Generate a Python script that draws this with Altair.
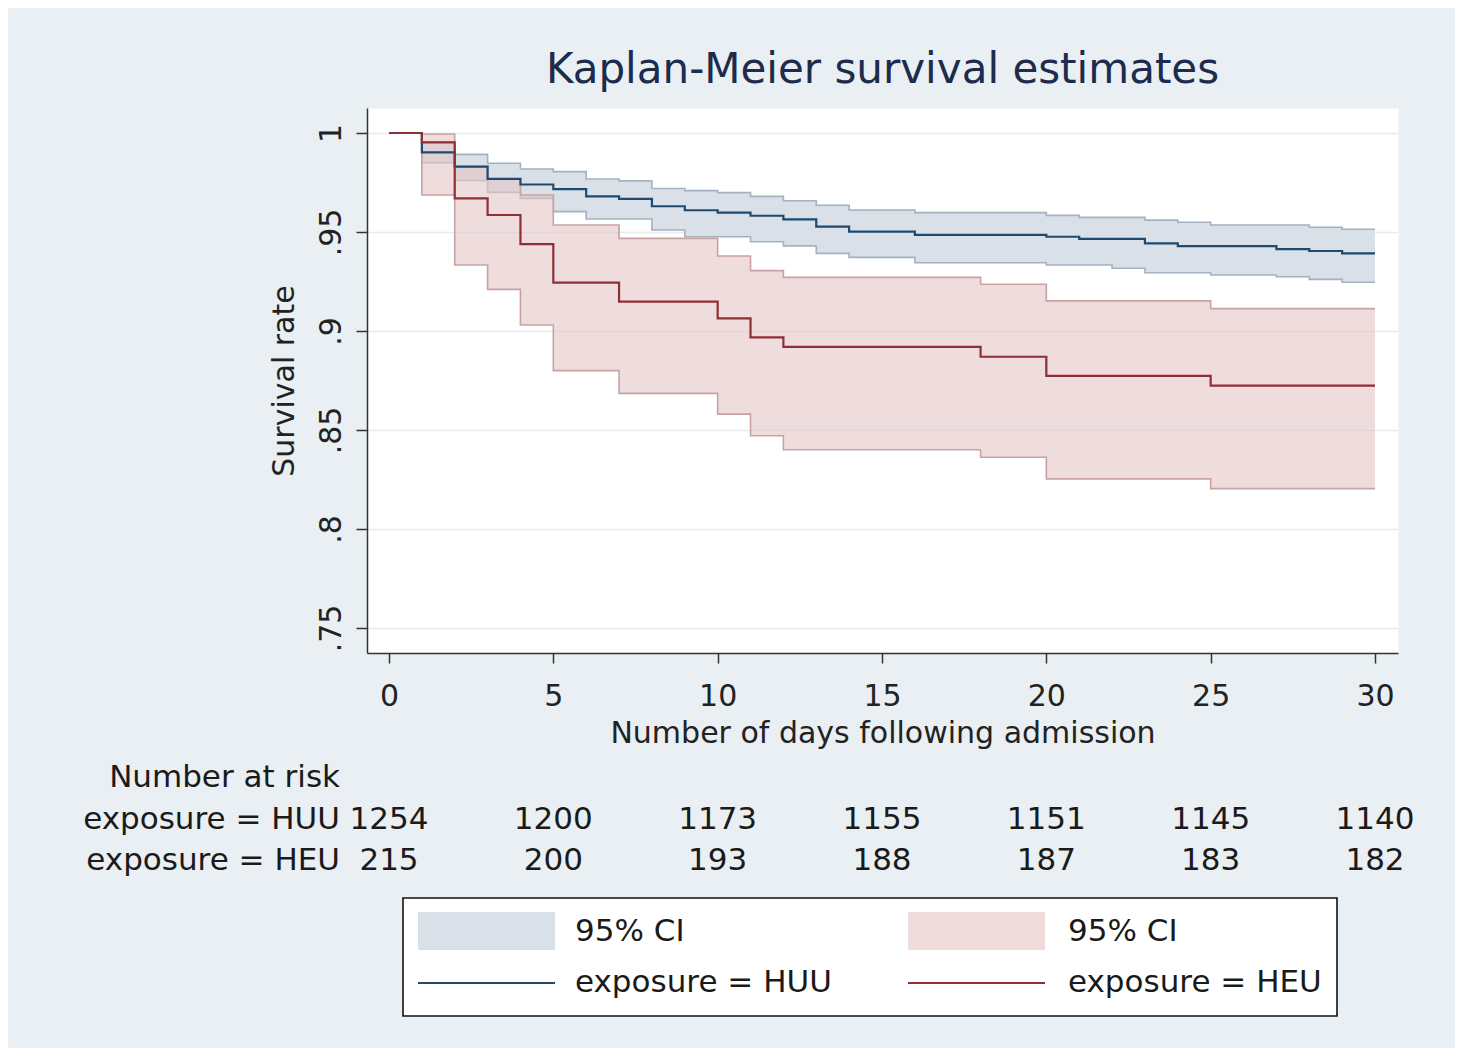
import altair as alt
import pandas as pd

# ---------------- data ----------------
huu_t = [0, 1, 2, 3, 4, 5, 6, 7, 8, 9, 10, 11, 12, 13, 14, 16, 20, 21, 22, 23, 24, 25, 27, 28, 29, 30]
huu_s = [1.0, .9902, .9830, .9768, .9740, .9717, .9680, .9667, .9630, .9610, .9598, .9582, .9564,
         .9527, .9502, .9485, .9476, .9465, .9465, .9443, .9429, .9429, .9414, .9404, .9392, .9392]
huu_hi = [1.0, .9955, .9892, .9847, .9818, .9805, .9768, .9758, .9720, .9709, .9699, .9680, .9658,
          .9635, .9611, .9598, .9584, .9574, .9574, .9560, .9549, .9535, .9535, .9524, .9514, .9514]
huu_lo = [1.0, .9850, .9760, .9700, .9670, .9603, .9566, .9566, .9510, .9476, .9476, .9451, .9430,
          .9392, .9372, .9345, .9333, .9333, .9317, .9294, .9294, .9283, .9274, .9261, .9246, .9246]

heu_t = [0, 1, 2, 3, 4, 5, 7, 10, 11, 12, 18, 20, 25, 30]
heu_s = [1.0, .9953, .9670, .9586, .9439, .9244, .9148, .9064, .8968, .8920, .8870, .8773, .8724, .8724]
heu_hi = [1.0, .9995, .9830, .9768, .9687, .9535, .9468, .9379, .9305, .9271, .9236, .9152, .9113, .9113]
heu_lo = [1.0, .9687, .9333, .9210, .9030, .8800, .8685, .8580, .8471, .8400, .8362, .8253, .8204, .8204]

risk_days = [0, 5, 10, 15, 20, 25, 30]
risk_huu = [1254, 1200, 1173, 1155, 1151, 1145, 1140]
risk_heu = [215, 200, 193, 188, 187, 183, 182]

x_ticks = [0, 5, 10, 15, 20, 25, 30]
y_ticks = [0.75, 0.8, 0.85, 0.9, 0.95, 1.0]

title_text = "Kaplan-Meier survival estimates"
x_title = "Number of days following admission"
y_title = "Survival rate"
row_labels = ["exposure = HUU", "exposure = HEU"]

# ---------------- styling ----------------
FONT = "DejaVu Sans"
BG = "#e9eff2"
BLUE_LINE = "#1f4a70"
RED_LINE = "#8e2f36"
BLUE_FILL = "#d9e0e8"
BLUE_EDGE = "#a3b1c0"
RED_FILL = "#e4c5c5"
RED_EDGE = "#c9a2a4"

W, H = 1031, 545
xs = alt.Scale(domain=[-0.669, 30.70], nice=False, zero=False)
ys = alt.Scale(domain=[0.73737, 1.01263], nice=False, zero=False)

X_AXIS = alt.Axis(values=x_ticks, title=x_title, grid=False, tickSize=10, tickWidth=1.5,
                  tickColor="#333", domainColor="#333", domainWidth=1.5,
                  labelFont=FONT, labelFontSize=30, labelColor="#222", labelPadding=18,
                  labelFlush=False, labelOverlap=False,
                  titleFont=FONT, titleFontSize=30, titleFontWeight="normal", titleColor="#222",
                  titleY=89, titleBaseline="alphabetic")
Y_AXIS = alt.Axis(values=y_ticks, title=y_title, grid=True, gridColor="#e6ebee", gridWidth=1.5,
                  tickSize=11, tickWidth=1.5, tickColor="#333", domainColor="#333", domainWidth=1.5,
                  labelExpr="datum.value >= 1 ? '1' : replace(format(datum.value, '.2~f'), '0.', '.')",
                  labelFont=FONT, labelFontSize=30, labelColor="#222", labelAngle=270,
                  labelAlign="center", labelBaseline="alphabetic", labelPadding=16,
                  labelFlush=False, labelOverlap=False,
                  titleFont=FONT, titleFontSize=30, titleFontWeight="normal", titleColor="#222",
                  titleAngle=270, titleX=-74, titleY=272.5, titleAlign="center",
                  titleBaseline="alphabetic")


def xenc(field="t"):
    return alt.X(f"{field}:Q", scale=xs, axis=X_AXIS)


def yenc(field):
    return alt.Y(f"{field}:Q", scale=ys, axis=Y_AXIS)


huu = pd.DataFrame({"t": huu_t, "s": huu_s, "lo": huu_lo, "hi": huu_hi})
heu = pd.DataFrame({"t": heu_t, "s": heu_s, "lo": heu_lo, "hi": heu_hi})

blue_band = alt.Chart(huu).mark_area(interpolate="step-after", color=BLUE_FILL, opacity=1).encode(
    x=xenc(), y=yenc("lo"), y2="hi:Q")
blue_lo = alt.Chart(huu).mark_line(interpolate="step-after", color=BLUE_EDGE, strokeWidth=1.6).encode(
    x=xenc(), y=yenc("lo"))
blue_hi = alt.Chart(huu).mark_line(interpolate="step-after", color=BLUE_EDGE, strokeWidth=1.6).encode(
    x=xenc(), y=yenc("hi"))

red_band = alt.Chart(heu).mark_area(interpolate="step-after", color=RED_FILL, opacity=0.6).encode(
    x=xenc(), y=yenc("lo"), y2="hi:Q")
red_lo = alt.Chart(heu).mark_line(interpolate="step-after", color=RED_EDGE, strokeWidth=1.6).encode(
    x=xenc(), y=yenc("lo"))
red_hi = alt.Chart(heu).mark_line(interpolate="step-after", color=RED_EDGE, strokeWidth=1.6).encode(
    x=xenc(), y=yenc("hi"))

blue_line = alt.Chart(huu).mark_line(interpolate="step-after", color=BLUE_LINE, strokeWidth=2.2).encode(
    x=xenc(), y=yenc("s"))
red_line = alt.Chart(heu).mark_line(interpolate="step-after", color=RED_LINE, strokeWidth=2.2).encode(
    x=xenc(), y=yenc("s"))

# ---------------- number at risk table ----------------
risk = pd.DataFrame({"day": risk_days, "huu": risk_huu, "heu": risk_heu})
txt = dict(font=FONT, fontSize=31, color="#1a1a1a", baseline="middle")
risk_huu_txt = alt.Chart(risk).mark_text(align="center", **txt).encode(
    x=xenc("day"), y=alt.value(712), text="huu:Q")
risk_heu_txt = alt.Chart(risk).mark_text(align="center", **txt).encode(
    x=xenc("day"), y=alt.value(753), text="heu:Q")

labels = pd.DataFrame({"label": ["Number at risk"] + row_labels, "ypos": [670, 712, 753]})
label_txt = alt.Chart(labels).mark_text(align="right", **txt).encode(
    x=alt.value(-27), y=alt.Y("ypos:Q", scale=None), text="label:N")

# ---------------- legend ----------------
one = pd.DataFrame({"k": [0]})
leg_box = alt.Chart(one).mark_rect(fill="white", stroke="#111", strokeWidth=1.6).encode(
    x=alt.value(36), x2=alt.value(970), y=alt.value(790), y2=alt.value(908))
leg_sw1 = alt.Chart(one).mark_rect(fill=BLUE_FILL).encode(
    x=alt.value(51), x2=alt.value(188), y=alt.value(804), y2=alt.value(842))
leg_sw2 = alt.Chart(one).mark_rect(fill="#efdcdc").encode(
    x=alt.value(541), x2=alt.value(678), y=alt.value(804), y2=alt.value(842))
leg_l1 = alt.Chart(one).mark_rule(color=BLUE_LINE, strokeWidth=2.2).encode(
    x=alt.value(51), x2=alt.value(188), y=alt.value(875))
leg_l2 = alt.Chart(one).mark_rule(color=RED_LINE, strokeWidth=2.2).encode(
    x=alt.value(541), x2=alt.value(678), y=alt.value(875))

leg_items = pd.DataFrame({
    "label": ["95% CI", "95% CI", row_labels[0], row_labels[1]],
    "lx": [208, 701, 208, 701],
    "ly": [824, 824, 875, 875],
})
leg_txt = alt.Chart(leg_items).mark_text(align="left", **txt).encode(
    x=alt.X("lx:Q", scale=None), y=alt.Y("ly:Q", scale=None), text="label:N")

chart = alt.layer(
    blue_band, blue_lo, blue_hi, red_band, red_lo, red_hi, blue_line, red_line,
    risk_huu_txt, risk_heu_txt, label_txt,
    leg_box, leg_sw1, leg_sw2, leg_l1, leg_l2, leg_txt,
).properties(
    width=W, height=H,
    title=alt.TitleParams(title_text, font=FONT, fontSize=42, fontWeight="normal",
                          color="#1d2b4c", anchor="middle", baseline="alphabetic",
                          offset=23, dy=40),
    autosize=alt.AutoSizeParams(type="none"),
    padding={"left": 359, "top": 100, "right": 57, "bottom": 395},
    background=BG,
).configure_view(fill="white", stroke="transparent")

chart.save("out.html", embed_options={"renderer": "svg", "actions": False})
